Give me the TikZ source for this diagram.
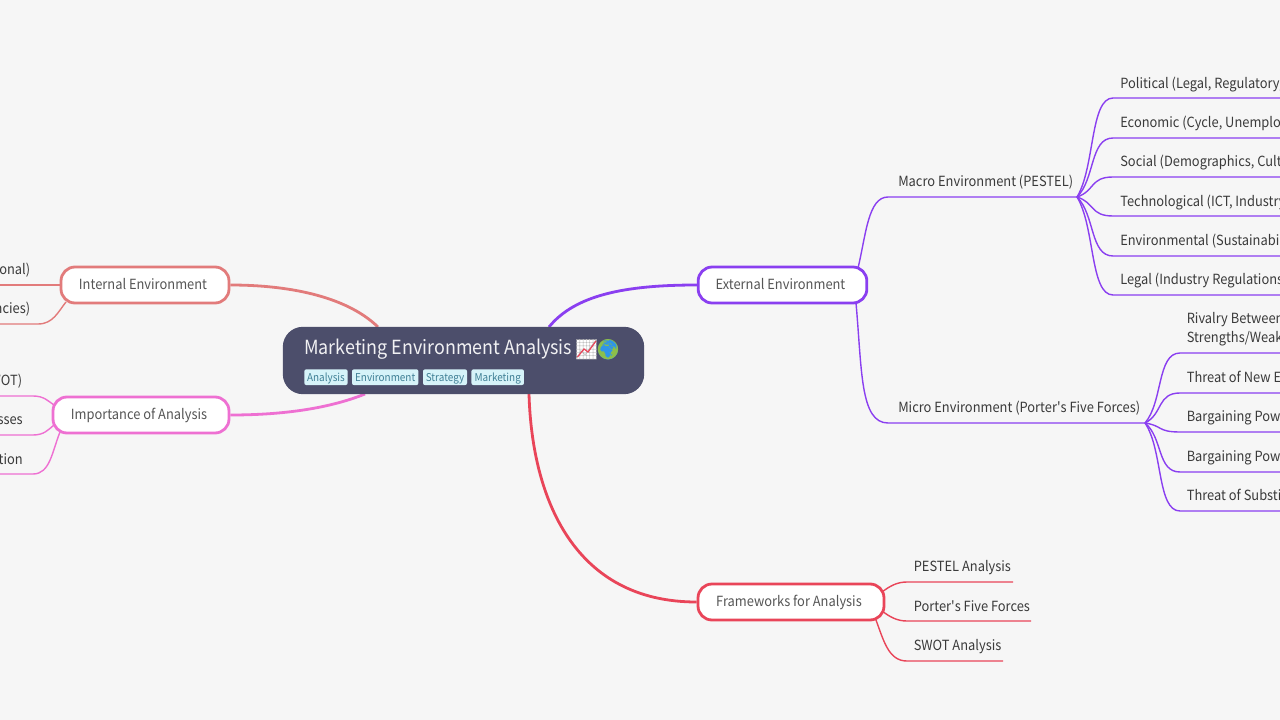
\documentclass[tikz,border=0pt]{standalone}
\usepackage{fontspec}
\setmainfont[FakeStretch=0.92]{Noto Sans CJK SC}
\newfontfamily\plainf[FakeStretch=0.92]{Noto Sans CJK SC}
\newfontfamily\emojifont{Noto Emoji}
\definecolor{bgc}{HTML}{F6F6F6}
\definecolor{rootc}{HTML}{4C4E6B}
\definecolor{tagf}{HTML}{D6F3F9}
\definecolor{tagt}{HTML}{3F7F95}
\definecolor{txt}{HTML}{3A3A3A}
\definecolor{txtb}{HTML}{555555}
\definecolor{cint}{HTML}{E27B7B}
\definecolor{cimp}{HTML}{EE70D2}
\definecolor{cext}{HTML}{8A3FF0}
\definecolor{cfra}{HTML}{E94559}
\definecolor{globeb}{HTML}{2F95E8}
\definecolor{globeg}{HTML}{8CBF4A}
\pgfdeclarelayer{bgl}\pgfdeclarelayer{edges}\pgfsetlayers{bgl,edges,main}
\newcommand\blab[1]{#1\hspace{3pt}\mbox{}}
\newcommand\apos{{\plainf'}}
\tikzset{
 x=0.75pt,y=-0.75pt,
 branch/.style={draw=#1,line width=2.1pt,fill=white,rounded corners=10.5pt,inner sep=0pt,minimum height=27pt,text height=8pt,text depth=1.6pt,text=txtb,font=\fontsize{10.5pt}{12pt}\selectfont},
 leaf/.style={anchor=base west,inner sep=0pt,text=txt,font=\fontsize{10.5pt}{14.2pt}\selectfont},
 leafr/.style={anchor=base east,inner sep=0pt,text=txt,font=\fontsize{10.5pt}{12pt}\selectfont},
 tagbox/.style={fill=tagf,rounded corners=1.5pt,inner sep=0pt,minimum height=11.8pt,text height=8pt,text depth=1.2pt,text=tagt,font=\fontsize{8.1pt}{9pt}\selectfont},
 thick edge/.style={draw=#1,line width=2.1pt},
 thin edge/.style={draw=#1,line width=1.05pt},
}
\begin{document}
\begin{tikzpicture}
\useasboundingbox (0,0) rectangle (1280,720);
\clip (0,0) rectangle (1280,720);
\begin{pgfonlayer}{bgl}
\fill[bgc] (0,0) rectangle (1280,720);
\end{pgfonlayer}
% root
\node[fill=rootc,rounded corners=15pt,minimum width=271pt,minimum height=50.5pt,inner sep=0pt] (root) at (463.5,360.5) {};
\node[anchor=base west,inner sep=0pt,text=white!92!rootc,font=\fontsize{14.6pt}{16pt}\selectfont] (title) at (304,354.5) {Marketing Environment Analysis};
\node[fill=white,minimum width=14.5pt,minimum height=14.5pt,inner sep=0pt] (chartbg) at (586.5,349.5) {};
\node[inner sep=0pt,text=black!25,font=\emojifont\fontsize{15pt}{16pt}\selectfont] (chart) at (586.5,349.5) {📈};
\draw[cfra,line width=0.9pt] (577.5,357) -- (584,349) -- (588,352) -- (596,341);
\node[circle,fill=globeb,minimum size=15pt,inner sep=0pt] (globebg) at (608,349.5) {};
\node[inner sep=0pt,text=globeg,font=\emojifont\fontsize{15pt}{16pt}\selectfont] (globe) at (608,349.5) {🌍};
\node[tagbox,minimum width=32.5pt] (t1) at (326,377.2) {Analysis};
\node[tagbox,minimum width=49.8pt] (t2) at (385.2,377.2) {Environment};
\node[tagbox,minimum width=33pt] (t3) at (445,377.2) {Strategy};
\node[tagbox,minimum width=39.4pt] (t4) at (497.7,377.2) {Marketing};
% branches
\node[branch=cint,minimum width=126pt] (int) at (145,285) {\blab{Internal Environment}};
\node[branch=cimp,minimum width=132pt] (imp) at (141,415) {\blab{Importance of Analysis}};
\node[branch=cext,minimum width=126.5pt] (ext) at (782.5,285) {\blab{External Environment}};
\node[branch=cfra,minimum width=139.5pt] (fra) at (791,602) {\blab{Frameworks for Analysis}};
% macro / micro
\node[leaf] (macro) at (898,186.5) {Macro Environment (PESTEL)};
\node[leaf] (micro) at (898,412) {Micro Environment (Porter\apos s Five Forces)};
\foreach \n/\y/\t in {m1/88.5/{Political (Legal, Regulatory,},m2/127.5/{Economic (Cycle, Unemplo},m3/166.5/{Social (Demographics, Cult},m4/206.5/{Technological (ICT, Industry},m5/245/{Environmental (Sustainabi},m6/284/{Legal (Industry Regulations}}
  \node[leaf] (\n) at (1120,\y) {\t};
\node[anchor=west,inner sep=0pt,text=txt,font=\fontsize{10.5pt}{14.2pt}\selectfont,align=left] (p1) at (1186.5,329) {Rivalry Between\\Strengths/Weak};
\foreach \n/\y/\t in {p2/382/{Threat of New E},p3/421/{Bargaining Pow},p4/461/{Bargaining Pow},p5/500/{Threat of Substi}}
  \node[leaf] (\n) at (1186.5,\y) {\t};
\foreach \n/\y/\t in {f1/571.5/{PESTEL Analysis},f2/611/{Porter\apos s Five Forces},f3/650/{SWOT Analysis}}
  \node[leaf] (\n) at (913.5,\y) {\t};
\node[leafr] (i1) at (30.5,274) {onal)};
\node[leafr] (i2) at (30.5,313) {ncies)};
\node[leafr] (s1) at (22.5,385) {WOT)};
\node[leafr] (s2) at (23,424) {sses};
\node[leafr] (s3) at (23,464) {tion};
% junctions
\coordinate (jmac) at (1077,197);
\coordinate (jmic) at (1145,423);
\coordinate (edgeR) at (1290,0);
\begin{pgfonlayer}{edges}
\draw[thick edge=cint] (378,327) .. controls (345,295) and (285,285) .. (int.east);
\draw[thick edge=cimp] (365,394) .. controls (330,408) and (285,415) .. (imp.east);
\draw[thick edge=cext] (549,327) .. controls (575,295) and (625,285) .. (ext.west);
\draw[thick edge=cfra] (529,394) .. controls (532,500) and (575,602) .. (fra.west);
% external children
\draw[thin edge=cext] (858,268) .. controls (866,235) and (868,197) .. (888,197) -- (jmac);
\draw[thin edge=cext] (856,303) .. controls (862,370) and (860,423) .. (888,423) -- (jmic);
\foreach \y in {98,138,177,216,256,295}
  \draw[thin edge=cext] (jmac) .. controls (1095,{197+0.3*(\y-197)}) and (1090,\y) .. (1113,\y) -- (edgeR |- 0,\y);
\foreach \y in {353,393,432,472,511}
  \draw[thin edge=cext] (jmic) .. controls (1163,{423+0.3*(\y-423)}) and (1157,\y) .. (1180,\y) -- (edgeR |- 0,\y);
% frameworks children
\draw[thin edge=cfra] (882,592) .. controls (890,586) and (897,582) .. (907,582) -- (1013,582);
\draw[thin edge=cfra] (882,611) .. controls (890,617) and (897,621) .. (907,621) -- (1031,621);
\draw[thin edge=cfra] (876,620) .. controls (884,642) and (889,661) .. (907,661) -- (1003,661);
% left children
\draw[thin edge=cint] (int.west) -- (-5,285);
\draw[thin edge=cint] (66,302) .. controls (58,312) and (53,324) .. (38,324) -- (-5,324);
\draw[thin edge=cimp] (54,405) .. controls (48,401) and (44,396) .. (33,396) -- (-5,396);
\draw[thin edge=cimp] (54,425) .. controls (48,430) and (44,435) .. (33,435) -- (-5,435);
\draw[thin edge=cimp] (60,432) .. controls (52,452) and (50,474) .. (33,474) -- (-5,474);
\end{pgfonlayer}
\end{tikzpicture}
\end{document}
